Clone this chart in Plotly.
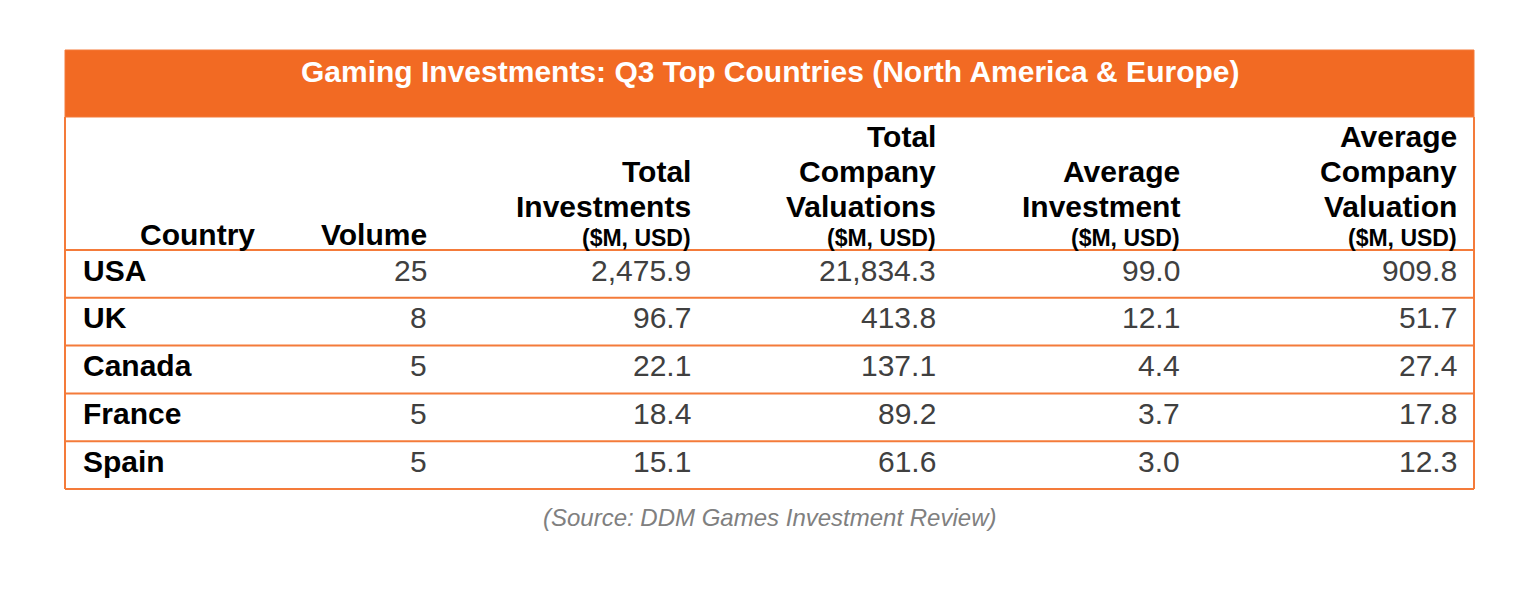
import plotly.graph_objects as go

# ---------------- data ----------------
title = "Gaming Investments: Q3 Top Countries (North America & Europe)"
source = "(Source: DDM Games Investment Review)"
countries = ["USA", "UK", "Canada", "France", "Spain"]
volume = [25, 8, 5, 5, 5]
total_investments = [2475.9, 96.7, 22.1, 18.4, 15.1]
total_valuations = [21834.3, 413.8, 137.1, 89.2, 61.6]
avg_investment = [99.0, 12.1, 4.4, 3.7, 3.0]
avg_valuation = [909.8, 51.7, 27.4, 17.8, 12.3]
header_lines = [
    ["Country"],
    ["Volume"],
    ["Total", "Investments"],
    ["Total", "Company", "Valuations"],
    ["Average", "Investment"],
    ["Average", "Company", "Valuation"],
]
has_units = [False, False, True, True, True, True]
units_label = "($M, USD)"

# ---------------- layout constants ----------------
W, H = 1536, 598
X0, X1 = 65, 1474
TITLE_TOP, TITLE_BOT = 50, 117
HEADER_BOT = 250
ROW_H = 47.8
ORANGE = "#F26A23"
LINE = "#F47B3A"
FONT = "Liberation Sans, Arial, sans-serif"
col_x = [83, 427, 691, 936, 1180, 1457]
col_anchor = ["left", "right", "right", "right", "right", "right"]
head_x = [255, 427, 691, 936, 1180, 1457]

fig = go.Figure()

shapes = []
annotations = []

# title band
shapes.append(dict(type="rect", x0=X0, x1=X1, y0=TITLE_TOP, y1=TITLE_BOT,
                   fillcolor=ORANGE, line=dict(color=LINE, width=1), layer="below"))
annotations.append(dict(x=(X0 + X1) / 2, y=71.5, text="<b>%s</b>" % title,
                        font=dict(family=FONT, size=30, color="white"),
                        xanchor="center", yanchor="middle"))

n = len(countries)
bottom = HEADER_BOT + ROW_H * n
# outer vertical borders
for xx in (X0, X1):
    shapes.append(dict(type="line", x0=xx, x1=xx, y0=TITLE_BOT, y1=bottom,
                       line=dict(color=LINE, width=2)))
# horizontal lines
for i in range(n + 1):
    yy = HEADER_BOT + ROW_H * i
    shapes.append(dict(type="line", x0=X0, x1=X1, y0=yy, y1=yy,
                       line=dict(color=LINE, width=2)))

# headers (all right aligned)
LS = 34.8
for c, lines in enumerate(header_lines):
    if has_units[c]:
        annotations.append(dict(x=head_x[c], y=238, text="<b>%s</b>" % units_label,
                                font=dict(family=FONT, size=23, color="black"),
                                xanchor="right", yanchor="middle"))
        last = 206.5
    else:
        last = 234
    for k, line in enumerate(reversed(lines)):
        annotations.append(dict(x=head_x[c], y=last - LS * k, text="<b>%s</b>" % line,
                                font=dict(family=FONT, size=30, color="black"),
                                xanchor="right", yanchor="middle"))

# body
cols = [
    countries,
    [str(v) for v in volume],
    [f"{v:,.1f}" for v in total_investments],
    [f"{v:,.1f}" for v in total_valuations],
    [f"{v:,.1f}" for v in avg_investment],
    [f"{v:,.1f}" for v in avg_valuation],
]
for r in range(n):
    yc = HEADER_BOT + ROW_H * r + 20
    for c in range(len(cols)):
        if c == 0:
            txt, color = "<b>%s</b>" % cols[c][r], "black"
        else:
            txt, color = cols[c][r], "#404040"
        annotations.append(dict(x=col_x[c], y=yc, text=txt,
                                font=dict(family=FONT, size=30, color=color),
                                xanchor=col_anchor[c], yanchor="middle"))

annotations.append(dict(x=(X0 + X1) / 2, y=517, text="<i>%s</i>" % source,
                        font=dict(family=FONT, size=24, color="#808080"),
                        xanchor="center", yanchor="middle"))

for a in annotations:
    a.update(xref="x", yref="y", showarrow=False, borderpad=0, borderwidth=0)

fig.update_layout(
    width=W, height=H, margin=dict(l=0, r=0, t=0, b=0),
    paper_bgcolor="white", plot_bgcolor="white",
    xaxis=dict(range=[0, W], visible=False, fixedrange=True),
    yaxis=dict(range=[H, 0], visible=False, fixedrange=True),
    shapes=shapes, annotations=annotations, showlegend=False,
)

fig.write_html("out.html", config={"displayModeBar": False},
               post_script="document.body.style.margin='0';document.body.style.overflow='hidden';")
